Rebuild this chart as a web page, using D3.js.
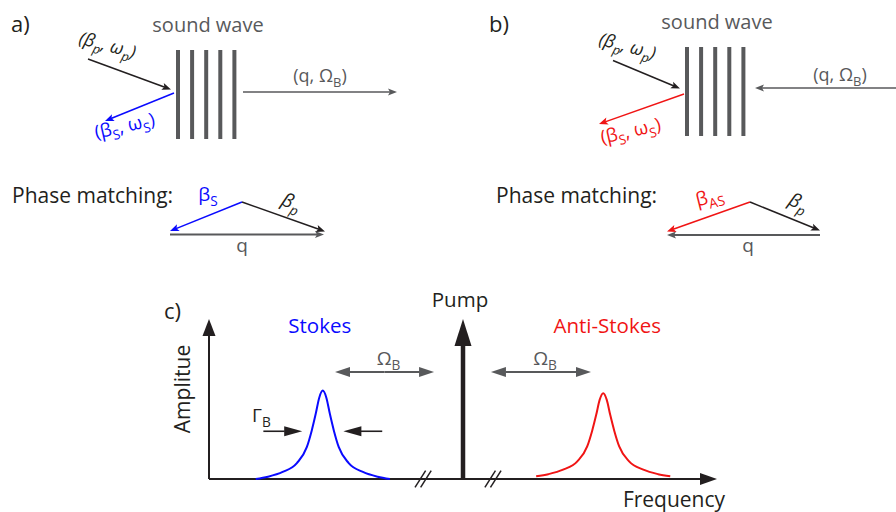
<!DOCTYPE html>
<html>
<head>
<meta charset="utf-8">
<script src="https://cdn.jsdelivr.net/npm/d3@7"></script>
<style>
  html, body { margin: 0; padding: 0; background: #fff; }
  svg { display: block; font-family: "Open Sans", "Noto Sans", sans-serif; }
</style>
</head>
<body>
<svg id="fig" width="896" height="512"></svg>
<script>
// ---- Spectrum data (frequency in arbitrary units, pump at 0) ----
const peakNames = ["Stokes", "Anti-Stokes"];
const peakCenters = [-27.6, 27.6];
const peakAmplitudes = [1.0, 0.97];
const peakBaselines = [0, 0.03];
// sampled Lorentzian line shape: offset from line centre, relative amplitude
const profileOffsets = [-13.2, -10.8, -7.9, -5.1, -3.15, -2.17, -1.38, -0.7, 0, 0.7, 1.38, 2.17, 3.15, 5.1, 7.9, 10.8, 13.2];
const profileValues  = [0, 0.026, 0.08, 0.18, 0.36, 0.55, 0.74, 0.92, 1, 0.92, 0.74, 0.55, 0.36, 0.18, 0.08, 0.026, 0];
const pumpFrequency = 0;
const pumpAmplitude = 1.81;
const shiftIntervals = [[-25.2, -5.7], [5.5, 25.2]];
const shiftLevel = 1.21;
const axisBreaks = [-7.85, 5.9];
const linewidthTails = [-11.7, 11.7];
const linewidthTips = [-4.05, 4.05];
const linewidthLevel = 0.54;

// ---- Text ----
const panelLabels = ["a)", "b)", "c)"];
const axisLabels = ["Amplitue", "Frequency"];

const BLUE = "#0a0aff", RED = "#f01414", GRAY = "#58595b", BLACK = "#231f20";
const svg = d3.select("#fig");

// arrow with a filled (optionally notched) head at the end point
function arrow(g, p1, p2, o) {
  const ang = Math.atan2(p2[1] - p1[1], p2[0] - p1[0]);
  const ux = Math.cos(ang), uy = Math.sin(ang);
  const notch = o.notch || 0;
  const baseX = p2[0] - ux * o.len, baseY = p2[1] - uy * o.len;
  const endX = p2[0] - ux * (o.len - notch - 0.5), endY = p2[1] - uy * (o.len - notch - 0.5);
  g.append("line")
    .attr("x1", p1[0]).attr("y1", p1[1]).attr("x2", endX).attr("y2", endY)
    .attr("stroke", o.color).attr("stroke-width", o.width);
  const hw = o.hw;
  const pts = [
    [p2[0], p2[1]],
    [baseX - uy * hw, baseY + ux * hw],
    [baseX + ux * notch, baseY + uy * notch],
    [baseX + uy * hw, baseY - ux * hw]
  ];
  g.append("polygon").attr("points", pts.map(p => p.join(",")).join(" ")).attr("fill", o.color);
}

// text built from [string, isSubscript] parts
function richText(g, parts, o) {
  const t = g.append("text")
    .attr("font-size", o.size)
    .attr("fill", o.color)
    .attr("text-anchor", o.anchor || "middle")
    .attr("font-style", o.italic ? "italic" : "normal");
  if (o.rotate !== undefined) {
    t.attr("transform", `translate(${o.x},${o.y}) rotate(${o.rotate})`);
  } else {
    t.attr("x", o.x).attr("y", o.y);
  }
  const drop = o.size * 0.28;
  let low = false;
  parts.forEach(([s, sub]) => {
    const ts = t.append("tspan").text(s);
    if (sub) { ts.attr("font-size", o.size * 0.72); if (!low) { ts.attr("dy", drop); low = true; } }
    else if (low) { ts.attr("dy", -drop); low = false; }
  });
  return t;
}

// ---- Panels a) and b): scattering geometry ----
function scatteringPanel(o) {
  const g = svg.append("g");
  g.append("text").attr("x", o.labelX).attr("y", 32).attr("font-size", 22).attr("fill", BLACK).text(o.label);
  g.append("text").attr("x", o.gratingX + 30).attr("y", o.gratingTop - 18)
    .attr("text-anchor", "middle").attr("font-size", 20).attr("fill", GRAY).text("sound wave");
  d3.range(5).forEach(i => {
    g.append("line")
      .attr("x1", o.gratingX + i * 14.1).attr("x2", o.gratingX + i * 14.1)
      .attr("y1", o.gratingTop).attr("y2", o.gratingTop + 89)
      .attr("stroke", GRAY).attr("stroke-width", 4);
  });
  const head = { len: 9, hw: 3.6, notch: 2, width: 1.5 };
  arrow(g, o.pumpFrom, o.pumpTo, { ...head, color: BLACK });
  arrow(g, o.scatFrom, o.scatTo, { ...head, color: o.scatColor });
  arrow(g, o.qFrom, o.qTo, { ...head, color: GRAY });

  richText(g, [["(β", 0], ["p", 1], [", ω", 0], ["p", 1], [")", 0]],
    { x: o.pumpLabel[0], y: o.pumpLabel[1], rotate: 15, size: 18, color: BLACK, italic: true });
  richText(g, [["(β", 0], ["S", 1], [", ω", 0], ["S", 1], [")", 0]],
    { x: o.scatLabel[0], y: o.scatLabel[1], rotate: -13, size: 18.5, color: o.scatColor });
  richText(g, [["(q, Ω", 0], ["B", 1], [")", 0]],
    { x: o.qLabel[0], y: o.qLabel[1], size: 18, color: GRAY });

  // phase matching triangle
  g.append("text").attr("x", o.pmX).attr("y", 203).attr("font-size", 21).attr("fill", BLACK).text("Phase matching:");
  arrow(g, o.apex, o.scatTip, { ...head, color: o.scatColor });
  arrow(g, o.apex, o.pumpTip, { ...head, color: BLACK });
  arrow(g, o.qStart, o.qEnd, { ...head, color: GRAY, width: 2 });
  richText(g, o.scatSymbol, { x: o.scatSymPos[0], y: o.scatSymPos[1], rotate: o.scatSymRot, size: 19, color: o.scatColor });
  richText(g, [["β", 0], ["p", 1]], { x: o.pumpSymPos[0], y: o.pumpSymPos[1], rotate: o.pumpSymRot, size: 19, color: BLACK, italic: true });
  g.append("text").attr("x", o.qSymX).attr("y", 252).attr("text-anchor", "middle")
    .attr("font-size", 19).attr("fill", GRAY).text("q");
}

scatteringPanel({
  label: panelLabels[0], labelX: 11,
  gratingX: 178, gratingTop: 50,
  pumpFrom: [88, 59], pumpTo: [171, 89.5],
  scatFrom: [174, 93], scatTo: [105, 121], scatColor: BLUE,
  qFrom: [243, 92], qTo: [397, 92],
  pumpLabel: [106, 51], scatLabel: [126, 132], qLabel: [320, 82],
  pmX: 12,
  apex: [242, 202], scatTip: [170, 231], pumpTip: [325, 231.5],
  qStart: [170, 234.5], qEnd: [324, 234.5],
  scatSymbol: [["β", 0], ["S", 1]], scatSymPos: [208, 201], scatSymRot: 0,
  pumpSymPos: [289, 208], pumpSymRot: 22, qSymX: 242
});

scatteringPanel({
  label: panelLabels[1], labelX: 489,
  gratingX: 687, gratingTop: 47,
  pumpFrom: [613, 60.5], pumpTo: [680, 88.5],
  scatFrom: [684, 94], scatTo: [599, 124], scatColor: RED,
  qFrom: [896, 88], qTo: [755, 88],
  pumpLabel: [626, 52], scatLabel: [632, 137], qLabel: [840, 81],
  pmX: 496,
  apex: [750, 202], scatTip: [667, 231.5], pumpTip: [820, 230.5],
  qStart: [820, 235], qEnd: [667, 235],
  scatSymbol: [["β", 0], ["AS", 1]], scatSymPos: [711, 203], scatSymRot: -14,
  pumpSymPos: [796, 208], pumpSymRot: 24, qSymX: 748
});

// ---- Panel c): spectrum ----
const x = d3.scaleLinear().domain([-50, 50]).range([209, 717]);
const y = d3.scaleLinear().domain([0, pumpAmplitude]).range([479, 319]);
const gc = svg.append("g");

gc.append("text").attr("x", 164).attr("y", 319).attr("font-size", 22).attr("fill", BLACK).text(panelLabels[2]);

// axes
arrow(gc, [x(-50), y(0)], [x(-50), y(pumpAmplitude)], { len: 17, hw: 6.5, width: 2, color: BLACK });
arrow(gc, [x(-50), y(0)], [x(50), y(0)], { len: 17, hw: 6, width: 2, color: BLACK });

// axis breaks
axisBreaks.forEach(b => {
  [-2.8, 2.8].forEach(d => {
    gc.append("line")
      .attr("x1", x(b) + d - 5.3).attr("y1", y(0) + 8.3)
      .attr("x2", x(b) + d + 5.3).attr("y2", y(0) - 8.3)
      .attr("stroke", BLACK).attr("stroke-width", 1.5);
  });
});

// Stokes / anti-Stokes lines
const lineGen = d3.line().x(d => d[0]).y(d => d[1]).curve(d3.curveMonotoneX);
peakNames.forEach((name, i) => {
  const pts = profileOffsets.map((off, k) => [
    x(peakCenters[i] + off),
    y(peakBaselines[i] + (peakAmplitudes[i] - peakBaselines[i]) * profileValues[k])
  ]);
  gc.append("path").attr("d", lineGen(pts)).attr("fill", "none")
    .attr("stroke", i === 0 ? BLUE : RED).attr("stroke-width", 2);
  gc.append("text").attr("x", x(peakCenters[i]) - 3 + (i === 0 ? 0 : 7)).attr("y", 333)
    .attr("text-anchor", "middle").attr("font-size", 20.5)
    .attr("fill", i === 0 ? BLUE : RED).text(name);
});

// pump
arrow(gc, [x(pumpFrequency), y(0)], [x(pumpFrequency), y(pumpAmplitude)], { len: 27, hw: 8.5, width: 4.5, color: BLACK });
gc.append("text").attr("x", x(pumpFrequency) - 3).attr("y", 307).attr("text-anchor", "middle")
  .attr("font-size", 20.5).attr("fill", BLACK).text("Pump");

// Brillouin shift double arrows
shiftIntervals.forEach(([a, b]) => {
  const ym = y(shiftLevel), xm = (x(a) + x(b)) / 2;
  arrow(gc, [xm, ym], [x(a), ym], { len: 15, hw: 5, width: 2, color: GRAY });
  arrow(gc, [xm, ym], [x(b), ym], { len: 15, hw: 5, width: 2, color: GRAY });
  richText(gc, [["Ω", 0], ["B", 1]], { x: xm + 4, y: ym - 7, size: 19, color: GRAY });
});

// linewidth markers
linewidthTails.forEach((t, i) => {
  const c = peakCenters[0];
  arrow(gc, [x(c + t), y(linewidthLevel)], [x(c + linewidthTips[i]), y(linewidthLevel)],
    { len: 18, hw: 5, width: 1.6, color: BLACK });
});
richText(gc, [["Γ", 0], ["B", 1]], { x: 252, y: 422, anchor: "start", size: 19, color: BLACK });

// axis titles
gc.append("text").attr("transform", `translate(190,389) rotate(-90)`).attr("text-anchor", "middle")
  .attr("font-size", 21).attr("fill", BLACK).text(axisLabels[0]);
gc.append("text").attr("x", 674).attr("y", 507).attr("text-anchor", "middle")
  .attr("font-size", 21).attr("fill", BLACK).text(axisLabels[1]);
</script>
</body>
</html>
